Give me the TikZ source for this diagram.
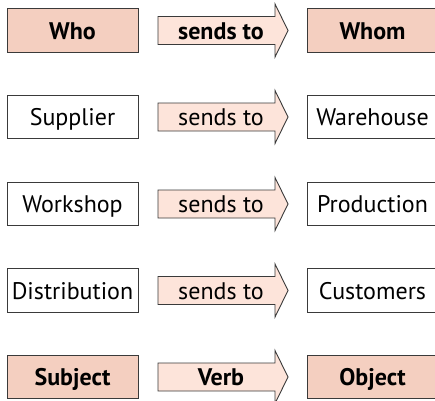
\documentclass[tikz,border=0pt]{standalone}
\usepackage{fontspec}
\setmainfont{PT Sans}
\definecolor{boldfill}{HTML}{F4CFC0}
\definecolor{arrowfill}{HTML}{FDE4DA}
\definecolor{edge}{HTML}{3A3A3A}
\tikzset{
  txt/.style={font=\fontsize{24}{28}\selectfont, text height=18pt, text depth=1pt},
  box/.style={draw=edge, line width=0.9pt, minimum width=131pt, minimum height=43.5pt, inner sep=0pt, txt},
  keybox/.style={box, fill=boldfill, font=\fontsize{24}{28}\selectfont\bfseries},
  flowshape/.style={draw=edge, line width=0.9pt, fill=arrowfill, line join=miter},
  flowtext/.style={inner sep=0pt, txt},
  keyflowtext/.style={flowtext, font=\fontsize{24}{28}\selectfont\bfseries}
}
% #1 name, #2 y, #3 text style, #4 text
\newcommand\flowarrow[4]{%
  \draw[flowshape] (158,#2-14) -- (275,#2-14) -- (275,#2-26.5) -- (288,#2)
    -- (275,#2+26.5) -- (275,#2+14) -- (158,#2+14) -- cycle;
  \node[#3] (#1) at (221,#2) {#4};
}
\begin{document}
\begin{tikzpicture}[x=1pt,y=-1pt]
\useasboundingbox (0,0) rectangle (435,400);
\begin{scope}
\clip (0,0) rectangle (435,400);
\node[keybox] (who) at (72.5,30.5) {Who};
\flowarrow{f1}{30.5}{keyflowtext}{sends to}
\node[keybox] (whom) at (372.5,30.5) {Whom};

\node[box] (sup) at (72.5,117) {Supplier};
\flowarrow{f2}{117}{flowtext}{sends to}
\node[box] (wh) at (372.5,117) {Warehouse};

\node[box] (ws) at (72.5,204) {Workshop};
\flowarrow{f3}{204}{flowtext}{sends to}
\node[box] (pr) at (372.5,204) {Production};

\node[box] (di) at (72.5,290.5) {Distribution};
\flowarrow{f4}{290.5}{flowtext}{sends to}
\node[box] (cu) at (372.5,290.5) {Customers};

\node[keybox] (sub) at (72.5,377) {Subject};
\flowarrow{f5}{377}{keyflowtext}{Verb}
\node[keybox] (obj) at (372.5,377) {Object};
\end{scope}
\end{tikzpicture}
\end{document}
